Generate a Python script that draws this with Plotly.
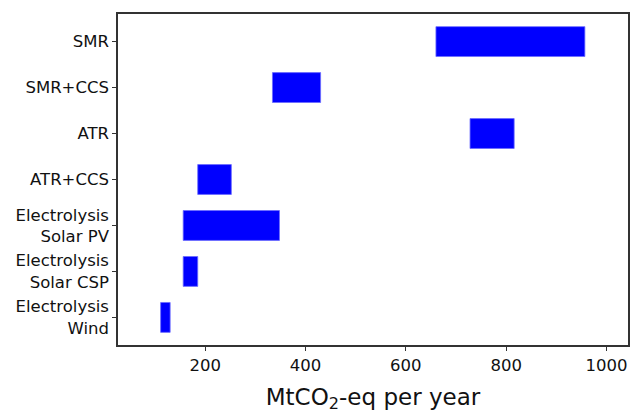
import plotly.graph_objects as go

categories = ["SMR", "SMR+CCS", "ATR", "ATR+CCS",
              "Electrolysis<br>Solar PV", "Electrolysis<br>Solar CSP", "Electrolysis<br>Wind"]
low = [660, 334, 728, 185, 156, 156, 111]
high = [957, 430, 816, 252, 348, 185, 130]
x_ticks = [200, 400, 600, 800, 1000]

span = [h - l for h, l in zip(high, low)]

fig = go.Figure(go.Bar(
    y=categories, x=span, base=low, orientation="h",
    width=0.65,
    marker=dict(color="#0000ff", line=dict(color="#6b6bff", width=0.8)),
))

font_family = "DejaVu Sans"
fig.update_layout(
    width=631, height=415,
    margin=dict(l=118, r=1, t=14, b=70),
    plot_bgcolor="white", paper_bgcolor="white",
    showlegend=False,
    font=dict(family=font_family, size=16.5, color="#111"),
)
fig.update_xaxes(
    range=[26, 1043], tickvals=x_ticks, ticktext=[str(v) for v in x_ticks],
    showgrid=False, zeroline=False,
    showline=True, mirror=True, linecolor="#333", linewidth=1.5,
    ticks="outside", ticklen=4, tickwidth=1.2, tickcolor="#333",
    tickfont=dict(size=16.5, family=font_family),
    title=dict(text="MtCO<sub>2</sub>-eq per year", font=dict(size=23, family=font_family), standoff=15),
)
fig.update_yaxes(
    categoryorder="array", categoryarray=categories,
    range=[6.6, -0.6],
    showgrid=False, zeroline=False,
    showline=True, mirror=True, linecolor="#333", linewidth=1.5,
    ticks="outside", ticklen=4, tickwidth=1.2, tickcolor="#333",
    tickfont=dict(size=16.5, family=font_family),
)

fig.write_html("out.html", config={"displayModeBar": False},
               post_script="document.body.style.margin='0';document.body.style.overflow='hidden';")
